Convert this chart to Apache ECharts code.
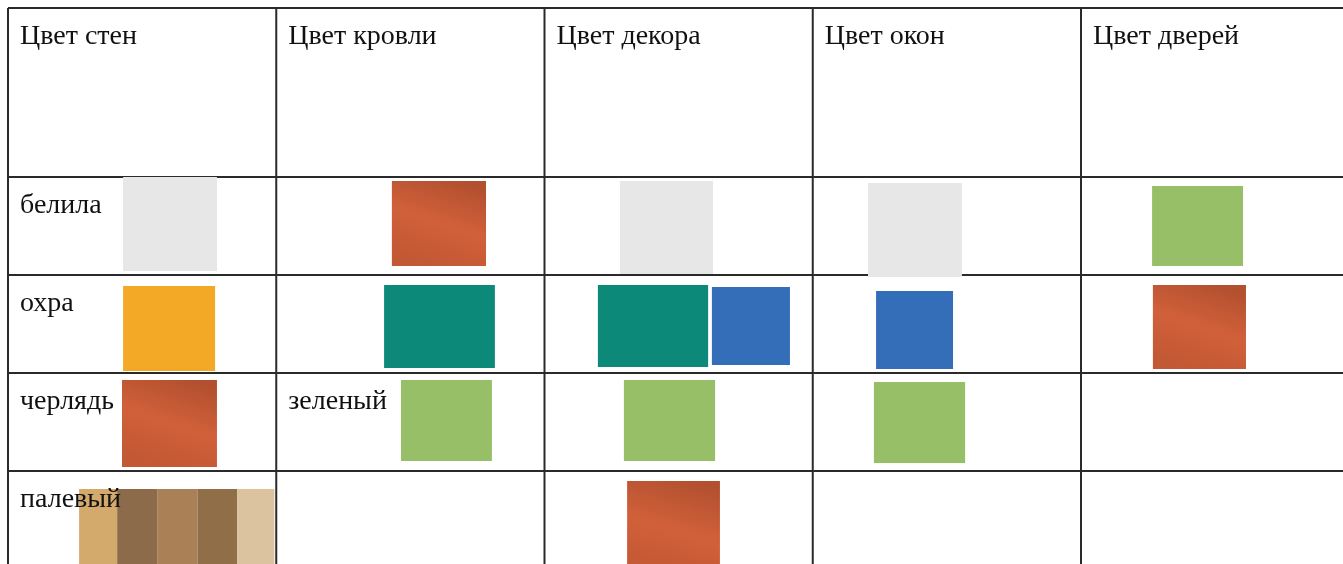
<!DOCTYPE html>
<html><head><meta charset="utf-8">
<script src="https://cdn.jsdelivr.net/npm/echarts@6/dist/echarts.min.js"></script>
<style>html,body{margin:0;padding:0;background:#fff;overflow:hidden}#c{width:1343px;height:564px}</style>
</head><body><div id="c"></div>
<script>
// ---- data ----
const headers = ['Цвет стен', 'Цвет кровли', 'Цвет декора', 'Цвет окон', 'Цвет дверей'];
const rowLabels = ['белила', 'охра', 'черлядь', 'палевый'];
const extraLabels = [[3, 1, 'зеленый']];            // [row, col, text]
// swatches: [row, col, paint]
const swatches = [
  [1, 0, 'белила'], [1, 1, 'черлядь'], [1, 2, 'белила'], [1, 3, 'белила'], [1, 4, 'зеленый'],
  [2, 0, 'охра'], [2, 1, 'бирюзовый'], [2, 2, 'бирюзовый'], [2, 2, 'синий'], [2, 3, 'синий'], [2, 4, 'черлядь'],
  [3, 0, 'черлядь'], [3, 1, 'зеленый'], [3, 2, 'зеленый'], [3, 3, 'зеленый'],
  [4, 0, 'палевый 1'], [4, 0, 'палевый 2'], [4, 0, 'палевый 3'], [4, 0, 'палевый 4'], [4, 0, 'палевый 5'],
  [4, 2, 'черлядь']
];

// ---- layout & style ----
const rowHeights = [1.7245, 1, 1, 1, 1];             // table units
const rowTops = rowHeights.reduce((a, h) => { a.push(a[a.length - 1] + h); return a; }, [0]);
// box inside its cell: [x0, x1, y0, y1] as fractions of cell width / body-row height
const swatchBoxes = [
  [0.429, 0.779, 0.000, 0.959], [0.431, 0.782, 0.041, 0.908], [0.281, 0.628, 0.041, 0.990], [0.206, 0.556, 0.061, 1.020], [0.265, 0.604, 0.092, 0.908],
  [0.429, 0.772, 0.112, 0.980], [0.402, 0.815, 0.102, 0.949], [0.199, 0.610, 0.102, 0.939], [0.624, 0.915, 0.122, 0.918], [0.236, 0.523, 0.163, 0.959], [0.268, 0.615, 0.102, 0.959],
  [0.425, 0.779, 0.071, 0.959], [0.465, 0.804, 0.071, 0.898], [0.296, 0.636, 0.071, 0.898], [0.228, 0.568, 0.092, 0.918],
  [0.265, 0.407, 0.184, 1.10], [0.407, 0.556, 0.184, 1.10], [0.556, 0.706, 0.184, 1.10], [0.706, 0.855, 0.184, 1.10], [0.855, 0.993, 0.184, 1.10],
  [0.308, 0.654, 0.102, 1.10]
];
const brick = new echarts.graphic.LinearGradient(0.7, 0, 0.4, 1, [
  { offset: 0, color: '#b3502f' }, { offset: 0.5, color: '#d0603a' }, { offset: 1, color: '#c25834' }
]);
const paints = {
  'белила': '#e7e7e7', 'черлядь': brick, 'зеленый': '#97bf68', 'охра': '#f4a926',
  'бирюзовый': '#0d897a', 'синий': '#346eb9',
  'палевый 1': '#d4aa6c', 'палевый 2': '#8b6b49', 'палевый 3': '#aa8157', 'палевый 4': '#8f6e48', 'палевый 5': '#dbc3a0'
};
const FONT = "28px 'Liberation Serif', 'DejaVu Serif', serif";
const lineColor = '#2a2a2a';

const nCols = headers.length;
const yMax = 5.6735;
const gridLines = [];
for (let c = 0; c <= nCols; c++) gridLines.push([c, 0, 'v']);
for (let r = 0; r < rowTops.length; r++) gridLines.push([0, rowTops[r], 'h']);

const texts = [];
headers.forEach((t, c) => texts.push([c, 0, t]));
rowLabels.forEach((t, i) => texts.push([0, i + 1, t]));
extraLabels.forEach(([r, c, t]) => texts.push([c, r, t]));

const chart = echarts.init(document.getElementById('c'), null, { renderer: 'canvas' });
chart.setOption({
  animation: false,
  grid: { left: 8, top: 8, right: 0, bottom: 0 },
  xAxis: { type: 'value', min: 0, max: 4.9767, show: false },
  yAxis: { type: 'value', min: 0, max: yMax, inverse: true, show: false },
  series: [
    {
      type: 'custom', z: 3, clip: false,
      data: swatches.map((s, i) => [s[1], rowTops[s[0]], i]),
      renderItem: (params, api) => {
        const i = api.value(2);
        const [r, c, paint] = swatches[i];
        const b = swatchBoxes[i];
        const p0 = api.coord([c + b[0], rowTops[r] + b[2]]);
        const p1 = api.coord([c + b[1], rowTops[r] + b[3]]);
        return { type: 'rect', shape: { x: p0[0], y: p0[1], width: p1[0] - p0[0], height: p1[1] - p0[1] },
                 style: { fill: paints[paint] } };
      }
    },
    {
      type: 'custom', z: 2, clip: false,
      data: gridLines,
      renderItem: (params, api) => {
        const g = gridLines[params.dataIndex];
        let a, b;
        if (g[2] === 'v') { a = api.coord([g[0], 0]); b = api.coord([g[0], yMax + 1]); }
        else { a = api.coord([0, g[1]]); b = api.coord([nCols, g[1]]); }
        return { type: 'line', shape: { x1: a[0], y1: a[1], x2: b[0], y2: b[1] },
                 style: { stroke: lineColor, lineWidth: 2 } };
      }
    },
    {
      type: 'custom', z: 5, clip: false,
      data: texts,
      renderItem: (params, api) => {
        const t = texts[params.dataIndex];
        const p = api.coord([t[0], rowTops[t[1]]]);
        return { type: 'text', style: { text: t[2], x: p[0] + 12, y: p[1] + 28.5, font: FONT,
                 fill: '#111', verticalAlign: 'middle', align: 'left' } };
      }
    }
  ]
});
</script></body></html>
